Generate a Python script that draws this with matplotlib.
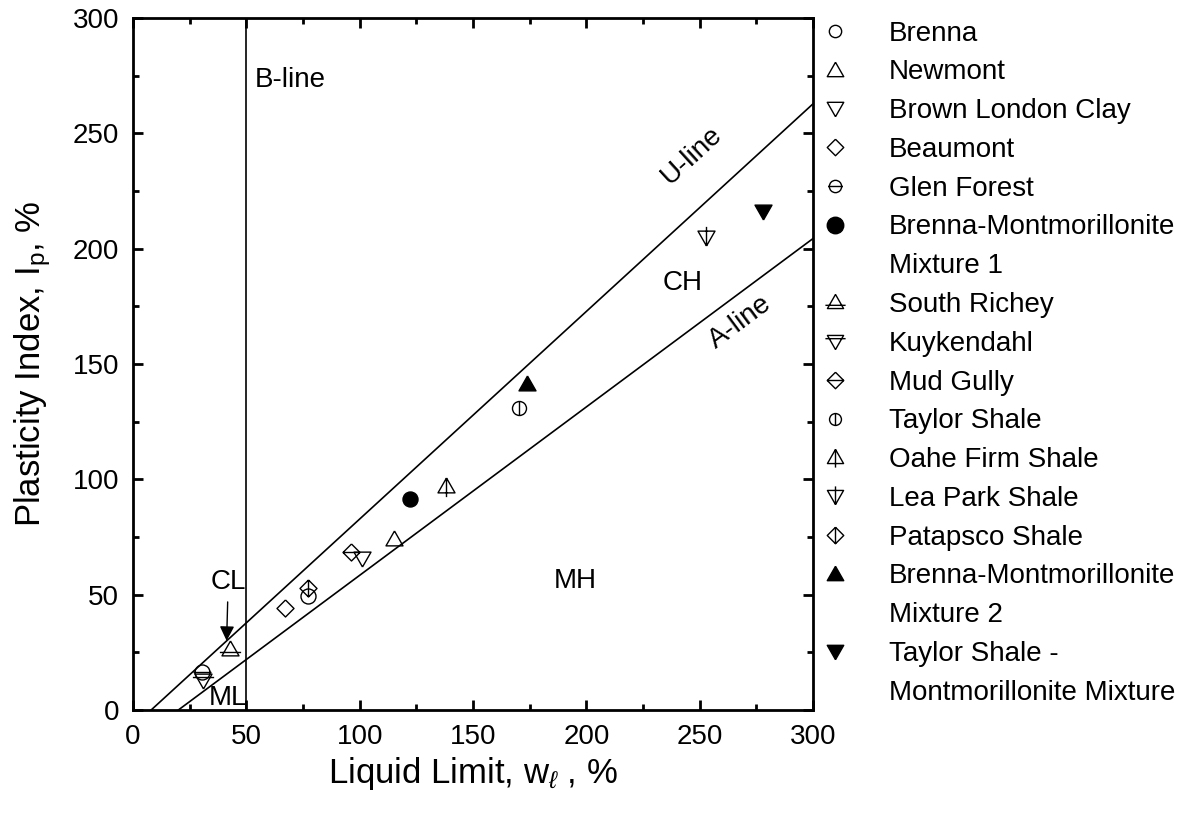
import numpy as np
import matplotlib
matplotlib.use("Agg")
import matplotlib.pyplot as plt
from matplotlib.path import Path
from matplotlib.lines import Line2D

plt.rcParams['font.family'] = ['Liberation Sans', 'DejaVu Sans']
plt.rcParams['mathtext.fontset'] = 'custom'
plt.rcParams['mathtext.rm'] = 'Liberation Sans'
plt.rcParams['mathtext.it'] = 'Liberation Sans:italic'

# soil data: liquid limit (%) and plasticity index (%)
names = ["Brenna", "Newmont", "Brown London Clay", "Beaumont", "Glen Forest",
         "Brenna-Montmorillonite Mixture 1", "South Richey", "Kuykendahl",
         "Mud Gully", "Taylor Shale", "Oahe Firm Shale", "Lea Park Shale",
         "Patapsco Shale", "Brenna-Montmorillonite Mixture 2",
         "Taylor Shale - Montmorillonite Mixture"]
liquid_limit = [77.2, 115, 101, 67, 30.5, 122, 42.8, 30.8, 96, 170.3, 138, 253, 77.2, 174, 278]
plasticity_index = [49.4, 74, 66, 44.3, 16.6, 91.5, 26.3, 13.0, 68.5, 131, 97, 205, 52.9, 141.3, 216.4]

legend_labels = ["Brenna", "Newmont", "Brown London Clay", "Beaumont", "Glen Forest",
                 "Brenna-Montmorillonite", "Mixture 1", "South Richey", "Kuykendahl",
                 "Mud Gully", "Taylor Shale", "Oahe Firm Shale", "Lea Park Shale",
                 "Patapsco Shale", "Brenna-Montmorillonite", "Mixture 2",
                 "Taylor Shale -", "Montmorillonite Mixture"]

M, L = Path.MOVETO, Path.LINETO


def seg(a, b):
    return Path([a, b], [M, L])


circ = Path.unit_circle()
tri_up = Path([(0, 1), (-1, -0.75), (1, -0.75), (0, 1)], [M, L, L, L])
tri_dn = Path([(0, -1), (-1, 0.75), (1, 0.75), (0, -1)], [M, L, L, L])
diam = Path([(0, 1), (-1, 0), (0, -1), (1, 0), (0, 1)], [M, L, L, L, L])

# marker path, face colour, radius in px, legend scale
shapes = {
    "Brenna": (circ, 'none', 7.5, 0.82),
    "Newmont": (tri_up, 'none', 8.5, 0.97),
    "Brown London Clay": (tri_dn, 'none', 8.5, 0.97),
    "Beaumont": (diam, 'none', 8.5, 0.97),
    "Glen Forest": (Path.make_compound_path(circ, seg((-1.2, 0), (1.2, 0))), 'none', 7.5, 0.82),
    "Brenna-Montmorillonite Mixture 1": (circ, 'k', 7.5, 1.1),
    "South Richey": (Path.make_compound_path(tri_up, seg((-1.25, -0.35), (1.25, -0.35))), 'none', 8.5, 0.95),
    "Kuykendahl": (Path.make_compound_path(tri_dn, seg((-1.25, 0.35), (1.25, 0.35))), 'none', 8.5, 0.95),
    "Mud Gully": (Path.make_compound_path(diam, seg((-1, 0), (1, 0))), 'none', 8.5, 0.97),
    "Taylor Shale": (Path.make_compound_path(circ, seg((0, -1), (0, 1))), 'none', 7.0, 0.85),
    "Oahe Firm Shale": (Path.make_compound_path(tri_up, seg((0, 1), (0, -1.25))), 'none', 8.5, 0.95),
    "Lea Park Shale": (Path.make_compound_path(tri_dn, seg((0, -1), (0, 1.25))), 'none', 8.5, 0.95),
    "Patapsco Shale": (Path.make_compound_path(diam, seg((0, -1), (0, 1))), 'none', 8.5, 0.97),
    "Brenna-Montmorillonite Mixture 2": (tri_up, 'k', 8.5, 0.97),
    "Taylor Shale - Montmorillonite Mixture": (tri_dn, 'k', 8.5, 0.97),
}


def marker_size(path, r_px):
    # path markers are rescaled so the largest |vertex| spans markersize/2
    ext = np.abs(path.vertices).max()
    return 2 * ext * r_px * 72 / 100


fig = plt.figure(figsize=(11.94, 8.21), dpi=100)
ax = fig.add_axes([0.1114, 0.1352, 0.5695, 0.8428])

ll = np.linspace(0, 300, 301)
u_line = 0.9 * (ll - 8)
a_line = 0.73 * (ll - 20)
ax.plot(ll[u_line >= 0], u_line[u_line >= 0], color='k', lw=1.2)
ax.plot(ll[a_line >= 0], a_line[a_line >= 0], color='k', lw=1.2)
ax.axvline(50, color='k', lw=1.2)

handles = {}
for name, x, y in zip(names, liquid_limit, plasticity_index):
    path, fc, r, k = shapes[name]
    ax.plot([x], [y], ls='none', marker=path, ms=marker_size(path, r), mfc=fc, mec='k', mew=1.0)
    handles[name] = Line2D([], [], ls='none', marker=path, ms=marker_size(path, r * k),
                           mfc=fc, mec='k', mew=1.0)

blank = Line2D([], [], ls='none')
leg_handles = [handles[n] for n in names[:6]] + [blank] + \
              [handles[n] for n in names[6:14]] + [blank] + [handles[names[14]], blank]

fig.legend(leg_handles, legend_labels, loc='upper left', bbox_to_anchor=(0.69, 0.975),
           frameon=False, fontsize=20, labelspacing=0.46, handlelength=0.8,
           handletextpad=1.55, borderaxespad=0, borderpad=0)

fs = 20
ax.text(53.5, 273, "B-line", fontsize=fs, va='center', ha='left')
ax.text(246.5, 240.5, "U-line", fontsize=fs, rotation=42.5, ha='center', va='center')
ax.text(268, 168, "A-line", fontsize=fs, rotation=36.6, ha='center', va='center')
ax.text(242.5, 185, "CH", fontsize=fs, ha='center', va='center')
ax.text(195, 56, "MH", fontsize=fs, ha='center', va='center')
ax.text(42, 5.0, "ML", fontsize=fs, ha='center', va='center')
ax.annotate("CL", xy=(41.3, 30), xytext=(42, 55.5), fontsize=fs, ha='center', va='center',
            arrowprops=dict(arrowstyle='-|>', color='k', lw=1.0, mutation_scale=22,
                            shrinkA=3, shrinkB=0))

ax.set_xlim(0, 300)
ax.set_ylim(0, 300)
ax.set_xticks(np.arange(0, 301, 50))
ax.set_yticks(np.arange(0, 301, 50))
ax.set_xticks(np.arange(25, 300, 50), minor=True)
ax.set_yticks(np.arange(25, 300, 50), minor=True)
ax.tick_params(which='both', direction='in', top=True, right=True, labelsize=fs, width=2)
ax.tick_params(which='major', length=7.5)
ax.tick_params(which='minor', length=4.5)
ax.tick_params(axis='x', which='major', pad=10)
ax.tick_params(axis='y', which='major', pad=10)
for s in ax.spines.values():
    s.set_linewidth(2)

ax.set_xlabel(r"Liquid Limit, w$_\ell$ , %", fontsize=25, labelpad=4)
ax.set_ylabel(r"Plasticity Index, I$_\mathrm{p}$, %", fontsize=25, labelpad=14)

fig.savefig("out.png", dpi=100)
